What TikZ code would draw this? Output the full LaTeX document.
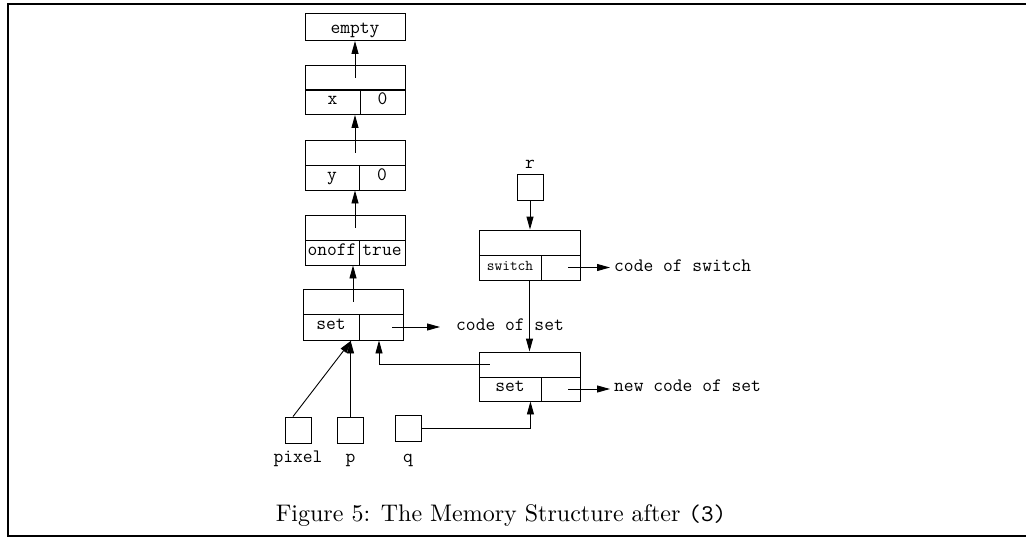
\documentclass[tikz,border=0pt]{standalone}
\usepackage{fontspec}
\usepackage{graphicx}
\usetikzlibrary{arrows.meta}
\begin{document}
\begin{tikzpicture}[x=1pt,y=-1pt,
  cell/.style={draw,line width=0.9pt,inner sep=0pt,minimum height=25pt,
    text height=5pt,text depth=0pt,font={\ttfamily\fontsize{19}{21}\selectfont}},
  ptr/.style={draw,line width=0.9pt,inner sep=0pt,minimum size=26pt},
  lbl/.style={inner sep=0pt,font={\ttfamily\fontsize{19}{21}\selectfont}},
  arr/.style={line width=0.9pt,-{Triangle[length=13pt,width=7pt]}},
  frame/.style={line width=2.5pt}]
\useasboundingbox (0,0) rectangle (1026,538);
\draw[frame] (1026,4) -- (8,4) -- (8,536) -- (1026,536);

% left column
\node[cell,minimum width=100pt,minimum height=27pt,text height=12pt] (empty) at (355,27) {empty};

\node[cell,minimum width=100pt] (xu) at (355,77.5) {};
\node[cell,minimum width=55pt] (xl) at (332.5,102) {x};
\node[cell,minimum width=45pt] (xr) at (382.5,102) {0};

\node[cell,minimum width=100pt] (yu) at (355,152.5) {};
\node[cell,minimum width=54pt] (yl) at (332,177.5) {y};
\node[cell,minimum width=46pt] (yr) at (382,177.5) {0};

\node[cell,minimum width=100pt] (onu) at (355,227.5) {};
\node[cell,minimum width=54pt] (onl) at (332,252.5) {onoff};
\node[cell,minimum width=46pt] (onr) at (382,252.5) {true};

\node[cell,minimum width=100pt] (setu) at (353,301.5) {};
\node[cell,minimum width=56pt,minimum height=26pt] (setl) at (331,327) {set};
\node[cell,minimum width=44pt,minimum height=26pt] (setr) at (381,327) {};

% right column
\node[cell,minimum width=101pt] (swu) at (529.5,242.5) {};
\node[cell,minimum width=62pt,font={\ttfamily\fontsize{15}{17}\selectfont}] (swl) at (510,267.5) {switch};
\node[cell,minimum width=39pt] (swr) at (560.5,267.5) {};

\node[cell,minimum width=101pt] (newu) at (529.5,364.5) {};
\node[cell,minimum width=62pt,minimum height=24pt] (newl) at (510,389) {set};
\node[cell,minimum width=39pt,minimum height=24pt] (newr) at (560.5,389) {};

% pointer boxes
\node[ptr] (r) at (530,187) {};
\node[lbl,anchor=base] (rl) at (530,168) {r};
\node[ptr] (pixel) at (298,430) {};
\node[lbl,anchor=base] (pixell) at (298,462) {pixel};
\node[ptr] (p) at (350.5,430) {};
\node[lbl,anchor=base] (pl) at (350.5,462) {p};
\node[ptr] (q) at (408,428.5) {};
\node[lbl,anchor=base] (ql) at (408,462) {q};

% code labels
\node[lbl,anchor=base west] (cos) at (456,330) {code of set};
\node[lbl,anchor=base west] (cosw) at (614,271.5) {code of switch};
\node[lbl,anchor=base west] (ncos) at (614,391.5) {new code of set};

% arrows
\draw[arr] (xu.center) -- (empty.south);
\draw[arr] (yu.center) -- (yu.center |- xl.south);
\draw[arr] (onu.center) -- (onu.center |- yl.south);
\draw[arr] (setu.center) -- (setu.center |- onl.south);
\draw[arr] ([xshift=11pt]setr.center) -- ([xshift=-16pt]cos.west |- setr.center);
\draw[arr] ([xshift=7.5pt]swr.center) -- ([xshift=-4pt]cosw.west |- swr.center);
\draw[arr] ([xshift=7.5pt]newr.center) -- ([xshift=-4pt]ncos.west |- newr.center);
\coordinate (sb) at ([xshift=-8pt]setl.south east);
\draw[arr] ([xshift=-5pt]pixel.north) -- (sb);
\draw[arr] (p.north) -- (p.north |- setl.south);
\draw[arr] ([xshift=-40pt]newu.center) -| ([xshift=-2pt]setr.south);
\draw[arr] (q.east) -| ([xshift=-11pt]newl.south east);
\draw[arr] (r.south) -- (r.south |- swu.north);
\draw[arr] (swu.center |- swl.south) -- (swu.center |- newu.north);

% caption
\node (cap) at (501,516) {\scalebox{2.4}{Figure 5: The Memory Structure after {\ttfamily (3)}}};
\end{tikzpicture}
\end{document}
